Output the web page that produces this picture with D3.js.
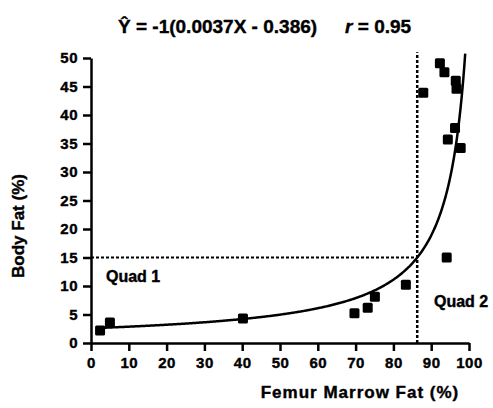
<!DOCTYPE html>
<html>
<head>
<meta charset="utf-8">
<script src="https://cdn.jsdelivr.net/npm/d3@7"></script>
<style>
  body { margin: 0; background: #fff; }
  svg text { font-family: "Liberation Sans", Arial, sans-serif; font-weight: bold; fill: #000; stroke: #000; stroke-width: 0.4px; }
  .axis path, .axis line { stroke: #000; stroke-width: 2.5px; }
  .axis text { font-size: 15px; letter-spacing: 0.5px; }
</style>
</head>
<body>
<svg id="chart" width="493" height="408"></svg>
<script>
// femur marrow fat (%) vs body fat (%)
const marrowFat = [2.4, 5.0, 40.2, 69.7, 73.2, 75.1, 83.3, 87.9, 92.3, 93.5, 96.5, 96.7, 96.3, 94.4, 97.8, 94.1];
const bodyFat   = [2.2, 3.6, 4.3, 5.2, 6.2, 8.1, 10.2, 43.9, 49.1, 47.5, 46.0, 44.6, 37.7, 35.7, 34.2, 15.0];
const xTicks = [0, 10, 20, 30, 40, 50, 60, 70, 80, 90, 100];
const yTicks = [0, 5, 10, 15, 20, 25, 30, 35, 40, 45, 50];
// fitted curve from the title: Y = -1 / (0.0037X - 0.386)
const slope = 0.0037, intercept = -0.386;
const cutX = 86.3, cutY = 15;

const svg = d3.select('#chart');
const x = d3.scaleLinear().domain([0, 100]).range([91, 469]);
const y = d3.scaleLinear().domain([0, 50]).range([343, 58]);

svg.append('g')
    .attr('class', 'axis')
    .attr('transform', `translate(0, ${y(0)})`)
    .call(d3.axisBottom(x).tickValues(xTicks).tickSize(8).tickSizeOuter(0).tickPadding(6));

svg.append('g')
    .attr('class', 'axis')
    .attr('transform', `translate(${x(0)}, 0)`)
    .call(d3.axisLeft(y).tickValues(yTicks).tickSize(8).tickSizeOuter(0).tickPadding(5));

// quadrant dividers
svg.append('line')
    .attr('x1', x(0)).attr('x2', x(cutX))
    .attr('y1', y(cutY)).attr('y2', y(cutY))
    .attr('stroke', '#000').attr('stroke-width', 2).attr('stroke-dasharray', '3,2');
svg.append('line')
    .attr('x1', x(cutX)).attr('x2', x(cutX))
    .attr('y1', y(0)).attr('y2', y(51))
    .attr('stroke', '#000').attr('stroke-width', 2.5).attr('stroke-dasharray', '3,2');

// regression curve
const curveX = d3.range(2, 99.05, 0.25);
const line = d3.line()
    .x(d => x(d))
    .y(d => y(-1 / (slope * d + intercept)))
    .curve(d3.curveMonotoneX);
svg.append('path')
    .datum(curveX)
    .attr('d', line)
    .attr('fill', 'none')
    .attr('stroke', '#000')
    .attr('stroke-width', 2.5);

// points
svg.selectAll('rect.pt')
    .data(marrowFat)
    .enter().append('rect')
    .attr('class', 'pt')
    .attr('x', (d, i) => x(d) - 5)
    .attr('y', (d, i) => y(bodyFat[i]) - 5)
    .attr('width', 10)
    .attr('height', 10)
    .attr('rx', 1.5)
    .attr('fill', '#000');

// labels
svg.append('text').attr('x', 106).attr('y', 282).style('font-size', '16px').text('Quad 1');
svg.append('text').attr('x', 434).attr('y', 307).style('font-size', '16px').text('Quad 2');

const title = svg.append('text').attr('x', 118).attr('y', 33).style('font-size', '19px');
title.append('tspan').text('Ŷ = -1(0.0037X - 0.386)');
title.append('tspan').attr('dx', 28).style('font-style', 'italic').text('r');
title.append('tspan').text(' = 0.95');

svg.append('text')
    .attr('x', 360).attr('y', 398)
    .attr('text-anchor', 'middle')
    .style('font-size', '17px')
    .style('letter-spacing', '1px')
    .text('Femur Marrow Fat (%)');

svg.append('text')
    .attr('transform', 'translate(24, 226) rotate(-90)')
    .attr('text-anchor', 'middle')
    .style('font-size', '17px')
    .text('Body Fat (%)');
</script>
</body>
</html>
